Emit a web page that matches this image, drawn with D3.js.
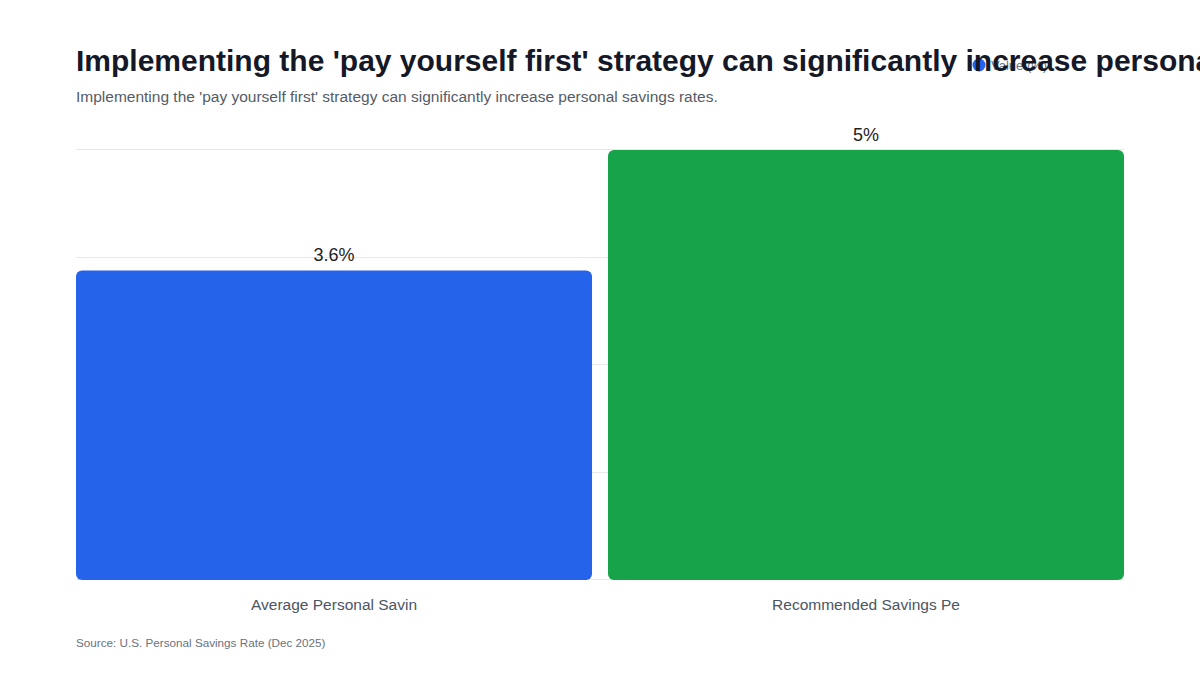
<!DOCTYPE html>
<html>
<head>
<meta charset="utf-8">
<script src="https://cdn.jsdelivr.net/npm/d3@7"></script>
<style>
  html, body { margin: 0; padding: 0; background: #ffffff; }
  svg { display: block; font-family: "Liberation Sans", Arial, Helvetica, sans-serif; }
</style>
</head>
<body>
<svg id="chart" width="1200" height="675"></svg>
<script>
const categories = ["Average Personal Savin", "Recommended Savings Pe"];
const values = [3.6, 5];
const valueLabels = ["3.6%", "5%"];
const barColors = ["#2563eb", "#16a34a"];
const yTicks = [0, 1.25, 2.5, 3.75, 5];
const seriesName = "Value (%)";
const titleText = "Implementing the 'pay yourself first' strategy can significantly increase personal savings rates.";
const subtitleText = "Implementing the 'pay yourself first' strategy can significantly increase personal savings rates.";
const sourceText = "Source: U.S. Personal Savings Rate (Dec 2025)";

const svg = d3.select("#chart");
const margin = { left: 76, right: 76, top: 150, bottom: 95 };
const W = 1200, H = 675;

const x = d3.scaleBand()
  .domain(categories)
  .range([margin.left, W - margin.right])
  .paddingInner(0.03)
  .paddingOuter(0);

const y = d3.scaleLinear()
  .domain([0, 5])
  .range([H - margin.bottom, margin.top]);

// gridlines
svg.append("g")
  .selectAll("line")
  .data(yTicks)
  .join("line")
  .attr("x1", margin.left)
  .attr("x2", W - margin.right)
  .attr("y1", d => Math.round(y(d)) - 0.5)
  .attr("y2", d => Math.round(y(d)) - 0.5)
  .attr("stroke", "#e8e8ec")
  .attr("stroke-width", 1);

// bars
const data = categories.map((c, i) => ({ c, v: values[i], label: valueLabels[i], color: barColors[i] }));
svg.append("g")
  .selectAll("rect")
  .data(data)
  .join("rect")
  .attr("x", d => x(d.c))
  .attr("y", d => y(d.v))
  .attr("width", x.bandwidth())
  .attr("height", d => y(0) - y(d.v))
  .attr("rx", 6)
  .attr("ry", 6)
  .attr("fill", d => d.color);

// value labels
svg.append("g")
  .selectAll("text")
  .data(data)
  .join("text")
  .attr("x", d => x(d.c) + x.bandwidth() / 2)
  .attr("y", d => y(d.v) - 9)
  .attr("text-anchor", "middle")
  .attr("font-size", 18)
  .attr("fill", "#222222")
  .text(d => d.label);

// x axis labels
const xAxis = d3.axisBottom(x).tickSize(0).tickPadding(0);
const gx = svg.append("g")
  .attr("transform", `translate(0, ${y(0)})`)
  .call(xAxis);
gx.select(".domain").remove();
gx.selectAll("text")
  .attr("dy", null)
  .attr("y", 30)
  .attr("font-size", 15.5)
  .attr("font-family", "Liberation Sans, Arial, sans-serif")
  .attr("fill", "#4b5563");

// legend text (beneath title)
const lg = svg.append("g").attr("transform", "translate(979, 65)");
lg.append("text")
  .attr("x", 12)
  .attr("y", 4.5)
  .attr("font-size", 13)
  .attr("fill", "#6b7280")
  .text(seriesName);

// title
svg.append("text")
  .attr("x", 76)
  .attr("y", 71)
  .attr("font-size", 30)
  .attr("font-weight", "bold")
  .attr("fill", "#151827")
  .text(titleText);

// legend marker
lg.append("circle").attr("r", 6.5).attr("fill", barColors[0]);

// subtitle
svg.append("text")
  .attr("x", 76)
  .attr("y", 102)
  .attr("font-size", 15.5)
  .attr("fill", "#555b66")
  .text(subtitleText);

// source
svg.append("text")
  .attr("x", 76)
  .attr("y", 647)
  .attr("font-size", 11.7)
  .attr("fill", "#6b7280")
  .text(sourceText);
</script>
</body>
</html>
